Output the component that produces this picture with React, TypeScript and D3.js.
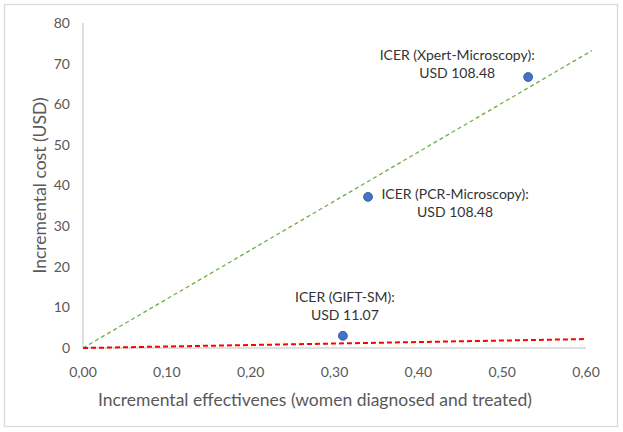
import React from "react";
import * as d3 from "d3";

const xTicks = [0, 0.1, 0.2, 0.3, 0.4, 0.5, 0.6];
const yTicks = [0, 10, 20, 30, 40, 50, 60, 70, 80];
const pointNames = ["Xpert-Microscopy", "PCR-Microscopy", "GIFT-SM"];
const pointX = [0.531, 0.34, 0.31];
const pointY = [66.7, 37.2, 3.0];
const pointLine1 = ["ICER (Xpert-Microscopy):", "ICER (PCR-Microscopy):", "ICER (GIFT-SM):"];
const pointLine2 = ["USD 108.48", "USD 108.48", "USD 11.07"];
const greenLineX = [0, 0.607];
const greenLineY = [0, 73.2];
const redLineX = [0, 0.6];
const redLineY = [0, 2.2];

const W = 623;
const H = 432;
const FONT = "Lato, 'Open Sans', sans-serif";

export default function App() {
  const x = d3.scaleLinear().domain([0, 0.6]).range([83, 586]);
  const y = d3.scaleLinear().domain([0, 80]).range([348, 23]);
  const line = d3
    .line<[number, number]>()
    .x((d) => x(d[0]))
    .y((d) => y(d[1]));
  const green = greenLineX.map((v, i) => [v, greenLineY[i]] as [number, number]);
  const red = redLineX.map((v, i) => [v, redLineY[i]] as [number, number]);
  const fmt = (v: number) => v.toFixed(2).replace(".", ",");

  const labelPos = [
    { dx: -71, dy: -22, anchor: "middle" },
    { dx: 87, dy: -3, anchor: "middle" },
    { dx: 2, dy: -39, anchor: "middle" },
  ];

  return (
    <div style={{ position: "absolute", left: 0, top: 0 }}>
      <svg width={W} height={H} style={{ display: "block", fontFamily: FONT }}>
        <rect x={0} y={0} width={W} height={H} fill="#fff" />
        <rect x={4.5} y={4.5} width={613} height={422} fill="#fff" stroke="#D9D9D9" strokeWidth={1.3} />
        <line x1={x(0)} x2={x(0)} y1={y(80)} y2={y(0)} stroke="#BFBFBF" strokeWidth={1} />
        <line x1={x(0)} x2={x(0.6)} y1={y(0)} y2={y(0)} stroke="#BFBFBF" strokeWidth={1} />
        {yTicks.map((t) => (
          <text key={"y" + t} x={70} y={y(t)} dy="0.35em" textAnchor="end" fontSize={14} fill="#595959">
            {t}
          </text>
        ))}
        {xTicks.map((t) => (
          <text key={"x" + t} x={x(t)} y={372} dy="0.35em" textAnchor="middle" fontSize={14} fill="#595959">
            {fmt(t)}
          </text>
        ))}
        <text x={315} y={400} dy="0.35em" textAnchor="middle" fontSize={17.5} fill="#595959">
          Incremental effectivenes (women diagnosed and treated)
        </text>
        <text
          transform={`translate(40, ${(y(0) + y(80)) / 2}) rotate(-90)`}
          dy="0.35em"
          textAnchor="middle"
          fontSize={17.5}
          fill="#595959"
        >
          Incremental cost (USD)
        </text>
        <path d={line(green) || ""} fill="none" stroke="#70AD47" strokeWidth={1.3} strokeDasharray="4 3" />
        <path d={line(red) || ""} fill="none" stroke="#FF0000" strokeWidth={2} strokeDasharray="5 3" />
        {pointNames.map((n, i) => (
          <circle key={n} cx={x(pointX[i])} cy={y(pointY[i])} r={4.5} fill="#4472C4" stroke="#2F5597" strokeWidth={0.8} />
        ))}
        {pointNames.map((n, i) => {
          const lp = labelPos[i];
          const cx = x(pointX[i]) + lp.dx;
          const cy = y(pointY[i]) + lp.dy;
          return (
            <g key={"l" + n}>
              <text x={cx} y={cy} dy="0.35em" textAnchor={lp.anchor as any} fontSize={14} fill="#333333">
                {pointLine1[i]}
              </text>
              <text x={cx} y={cy + 18} dy="0.35em" textAnchor={lp.anchor as any} fontSize={14} fill="#333333">
                {pointLine2[i]}
              </text>
            </g>
          );
        })}
      </svg>
    </div>
  );
}
